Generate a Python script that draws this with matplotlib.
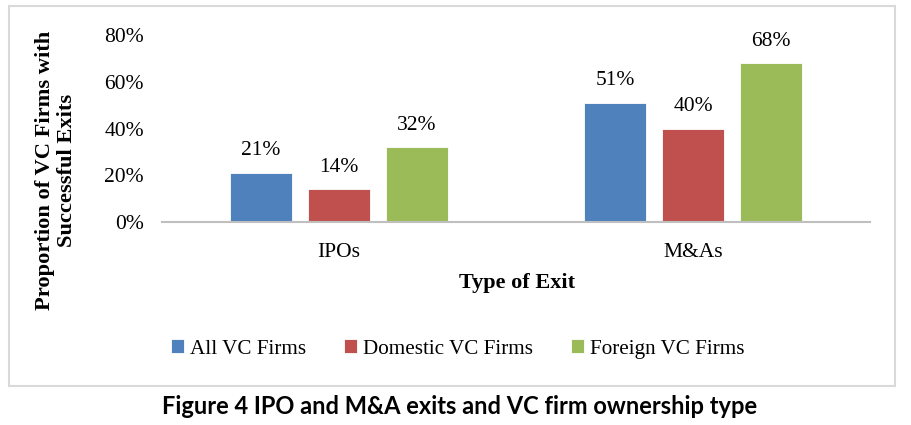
import matplotlib
matplotlib.use("Agg")
import matplotlib.pyplot as plt
import numpy as np
from matplotlib.patches import Rectangle

categories = ["IPOs", "M&As"]
series_names = ["All VC Firms", "Domestic VC Firms", "Foreign VC Firms"]
all_vc = [0.21, 0.51]
domestic_vc = [0.14, 0.40]
foreign_vc = [0.32, 0.68]
y_ticks = [0, 0.2, 0.4, 0.6, 0.8]
y_tick_labels = ["0%", "20%", "40%", "60%", "80%"]

colors = ["#4F81BD", "#C0504D", "#9BBB59"]
serif = ["Liberation Serif", "DejaVu Serif"]

fig = plt.figure(figsize=(9.12, 4.25), dpi=100)
ax = fig.add_axes([0.1776, 0.4776, 0.7763, 0.44])

x = np.arange(len(categories))
width = 0.175
step = 0.22
handles = []
for i, (vals, col) in enumerate(zip([all_vc, domestic_vc, foreign_vc], colors)):
    bars = ax.bar(x + (i - 1) * step, vals, width, color=col, edgecolor="white", linewidth=0.6)
    handles.append(bars)
    for b, v in zip(bars, vals):
        ax.annotate(f"{round(v * 100)}%", (b.get_x() + b.get_width() / 2, v),
                    xytext=(0, 9), textcoords="offset points", ha="center", va="bottom",
                    fontsize=15.5, family=serif)

ax.set_xlim(-0.5, 1.5)
ax.set_ylim(0, 0.8)
ax.set_yticks(y_ticks)
ax.set_yticklabels(y_tick_labels, family=serif, fontsize=15.5)
ax.set_xticks(x)
ax.set_xticklabels(categories, family=serif, fontsize=15.5)
ax.tick_params(axis="y", length=0, pad=13)
ax.tick_params(axis="x", length=0, pad=15)
for s in ["top", "right", "left"]:
    ax.spines[s].set_visible(False)
ax.spines["bottom"].set_color("#bfbfbf")
ax.spines["bottom"].set_linewidth(1.5)

fig.text(517 / 912, 1 - 283 / 425, "Type of Exit", ha="center", va="center",
         fontsize=16, fontweight="bold", family=serif)
fig.text(56 / 912, 1 - 170 / 425, "Proportion of VC Firms with\nSuccessful Exits",
         rotation=90, ha="center", va="center", fontsize=16.2, fontweight="bold",
         family=serif, linespacing=1.1)

fig.legend(handles, series_names, loc="center", bbox_to_anchor=(458 / 912, 1 - 349 / 425),
           ncol=3, frameon=False, prop={"family": serif, "size": 15.2},
           handlelength=0.6, handleheight=0.6, handletextpad=0.3, columnspacing=1.8)

fig.patches.append(Rectangle((9 / 912, 1 - 386 / 425), 886 / 912, 380 / 425,
                             transform=fig.transFigure, fill=False,
                             edgecolor="#d9d9d9", linewidth=1.5))

fig.text(460 / 912, 1 - 406 / 425, "Figure 4 IPO and M&A exits and VC firm ownership type",
         ha="center", va="center", fontsize=17, fontweight="bold", family=["Lato", "DejaVu Sans"])

fig.savefig("out.png", dpi=100)
